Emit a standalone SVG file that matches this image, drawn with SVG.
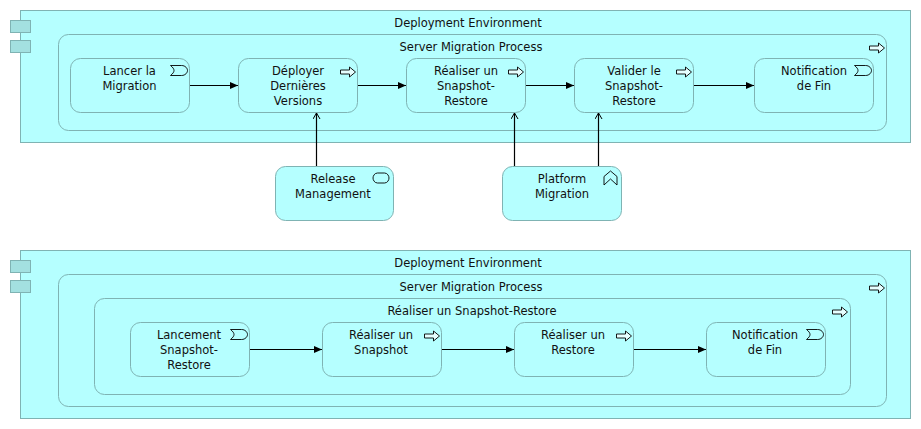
<svg xmlns="http://www.w3.org/2000/svg" width="921" height="429" viewBox="0 0 921 429">
<style>
.b{fill:#b5ffff;stroke:#7fb3b3;stroke-width:1}
.t{fill:#a3e0e0;stroke:#7fb3b3;stroke-width:1}
.i{fill:#e6ffff;stroke:#000;stroke-width:.9}
.ic{fill:none;stroke:#000;stroke-width:.9}
text{font-family:"DejaVu Sans",sans-serif;font-size:11.5px;fill:#111;text-anchor:middle}
.c{fill:none;stroke:#000;stroke-width:1.2}
</style>
<defs>
<path id="arr" class="i" d="M0,3H9V0L15,5L9,10V7H0Z"/>
<path id="ev" class="ic" d="M0,0H11C15,0 17,3 17,5S15,10 11,10H0C2.500,8 3.500,6.500 3.500,5S2.500,2 0,0Z"/>
<path id="svc" class="ic" d="M4.500,0H11.500C14.500,0 16,3 16,5S14.500,10 11.500,10H4.500C1.500,10 0,7 0,5S1.500,0 4.500,0Z"/>
<path id="cap" class="ic" d="M0,5.500L6.500,0L13,5.500V14L6.500,8L0,14Z"/>
<marker id="tri" markerWidth="9" markerHeight="8" refX="8" refY="4" orient="auto" markerUnits="userSpaceOnUse"><path d="M0,0.500L8,4L0,7.500Z" fill="#000"/></marker>
<marker id="open" markerWidth="8" markerHeight="10" refX="7" refY="4" orient="auto" markerUnits="userSpaceOnUse"><path d="M1,0.500L7,4L1,7.500" fill="none" stroke="#000"/></marker>
</defs>

<g id="env1">
<rect class="b" x="20.500" y="10.500" width="890" height="132"/>
<rect class="t" x="10.500" y="20.500" width="20" height="12"/>
<rect class="t" x="10.500" y="40.500" width="20" height="12"/>
<text x="468" y="27">Deployment Environment</text>
</g>
<g id="proc1">
<rect class="b" x="58.500" y="34.500" width="828" height="96" rx="10"/>
<text x="471" y="51">Server Migration Process</text>
<use href="#arr" x="869.500" y="43"/>
</g>
<g id="n1">
<rect class="b" x="70.500" y="58.500" width="119" height="54" rx="10"/>
<text x="129.500" y="75">Lancer la</text><text x="129.500" y="90">Migration</text>
<use href="#ev" x="170.500" y="65.500"/>
</g>
<g id="n2">
<rect class="b" x="238.500" y="58.500" width="119" height="54" rx="10"/>
<text x="298" y="75">Déployer</text><text x="298" y="90">Dernières</text><text x="298" y="105">Versions</text>
<use href="#arr" x="340.500" y="67"/>
</g>
<g id="n3">
<rect class="b" x="406.500" y="58.500" width="119" height="54" rx="10"/>
<text x="466" y="75">Réaliser un</text><text x="466" y="90">Snapshot-</text><text x="466" y="105">Restore</text>
<use href="#arr" x="508.500" y="67"/>
</g>
<g id="n4">
<rect class="b" x="574.500" y="58.500" width="119" height="54" rx="10"/>
<text x="634" y="75">Valider le</text><text x="634" y="90">Snapshot-</text><text x="634" y="105">Restore</text>
<use href="#arr" x="676.500" y="67"/>
</g>
<g id="n5">
<rect class="b" x="754.500" y="58.500" width="119" height="54" rx="10"/>
<text x="814" y="75">Notification</text><text x="814" y="90">de Fin</text>
<use href="#ev" x="854.500" y="65.500"/>
</g>
<g id="release">
<rect class="b" x="275.500" y="166.500" width="118" height="54" rx="10"/>
<text x="333" y="183">Release</text><text x="333" y="198">Management</text>
<use href="#svc" x="373" y="173"/>
</g>
<g id="platform">
<rect class="b" x="502.500" y="166.500" width="119" height="54" rx="10"/>
<text x="562" y="183">Platform</text><text x="562" y="198">Migration</text>
<use href="#cap" x="604" y="171"/>
</g>

<g id="env2">
<rect class="b" x="20.500" y="250.500" width="890" height="168"/>
<rect class="t" x="10.500" y="260.500" width="20" height="12"/>
<rect class="t" x="10.500" y="280.500" width="20" height="12"/>
<text x="468" y="267">Deployment Environment</text>
</g>
<g id="proc2">
<rect class="b" x="58.500" y="274.500" width="828" height="132" rx="10"/>
<text x="471" y="291">Server Migration Process</text>
<use href="#arr" x="869.500" y="283"/>
</g>
<g id="proc3">
<rect class="b" x="94.500" y="298.500" width="756" height="96" rx="10"/>
<text x="472" y="315">Réaliser un Snapshot-Restore</text>
<use href="#arr" x="832.500" y="307"/>
</g>
<g id="m1">
<rect class="b" x="130.500" y="322.500" width="119" height="54" rx="10"/>
<text x="189" y="339">Lancement</text><text x="189" y="354">Snapshot-</text><text x="189" y="369">Restore</text>
<use href="#ev" x="230.500" y="329.500"/>
</g>
<g id="m2">
<rect class="b" x="322.500" y="322.500" width="119" height="54" rx="10"/>
<text x="381" y="339">Réaliser un</text><text x="381" y="354">Snapshot</text>
<use href="#arr" x="424.500" y="331"/>
</g>
<g id="m3">
<rect class="b" x="514.500" y="322.500" width="119" height="54" rx="10"/>
<text x="573" y="339">Réaliser un</text><text x="573" y="354">Restore</text>
<use href="#arr" x="616.500" y="331"/>
</g>
<g id="m4">
<rect class="b" x="706.500" y="322.500" width="119" height="54" rx="10"/>
<text x="765" y="339">Notification</text><text x="765" y="354">de Fin</text>
<use href="#ev" x="806.500" y="329.500"/>
</g>

<g id="connectors">
<path class="c" marker-end="url(#tri)" d="M190,85.500H238"/>
<path class="c" marker-end="url(#tri)" d="M358,85.500H406"/>
<path class="c" marker-end="url(#tri)" d="M526,85.500H574"/>
<path class="c" marker-end="url(#tri)" d="M694,85.500H754"/>
<path class="c" marker-end="url(#open)" d="M316.500,166V113"/>
<path class="c" marker-end="url(#open)" d="M514.500,166V113"/>
<path class="c" marker-end="url(#open)" d="M598.500,166V113"/>
<path class="c" marker-end="url(#tri)" d="M250,349.500H322"/>
<path class="c" marker-end="url(#tri)" d="M442,349.500H514"/>
<path class="c" marker-end="url(#tri)" d="M634,349.500H706"/>
</g>
</svg>
